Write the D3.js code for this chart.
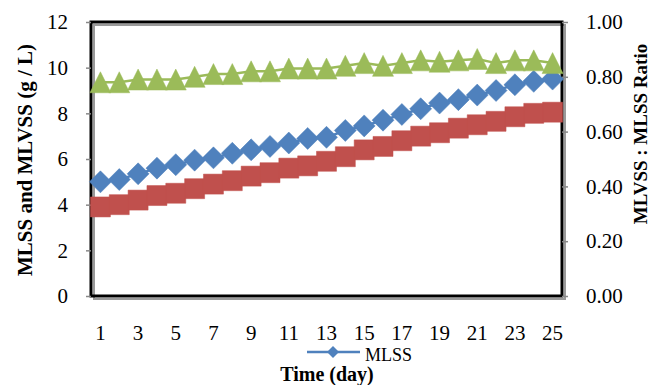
<!DOCTYPE html>
<html>
<head>
<meta charset="utf-8">
<script src="https://cdn.jsdelivr.net/npm/d3@7/dist/d3.min.js"></script>
<style>
  body { margin: 0; background: #fff; }
  svg { display: block; }
  .tick text { font-family: "Liberation Serif", "Times New Roman", serif; font-size: 21px; fill: #000; }
  .title { font-family: "Liberation Serif", "Times New Roman", serif; font-weight: bold; fill: #000; }
</style>
</head>
<body>
<div id="chart"></div>
<script>
        // Data
        const days = d3.range(1, 26);
        const mlss = [5.0, 5.1, 5.35, 5.6, 5.75, 5.95, 6.05, 6.25, 6.4, 6.55, 6.7, 6.9, 6.95,
                      7.25, 7.45, 7.7, 7.95, 8.2, 8.45, 8.6, 8.8, 9.0, 9.25, 9.4, 9.5];
        const mlvss = [3.9, 4.0, 4.2, 4.4, 4.5, 4.7, 4.9, 5.05, 5.25, 5.4, 5.6, 5.7, 5.9,
                       6.1, 6.4, 6.55, 6.8, 7.0, 7.15, 7.35, 7.5, 7.65, 7.85, 8.0, 8.05];
        const ratio = [0.78, 0.78, 0.79, 0.79, 0.79, 0.80, 0.81, 0.81, 0.82, 0.82, 0.83, 0.83, 0.83,
                       0.84, 0.85, 0.84, 0.85, 0.86, 0.855, 0.86, 0.865, 0.85, 0.86, 0.86, 0.85];
        const leftTicks = [0, 2, 4, 6, 8, 10, 12];
        const rightTicks = [0, 0.2, 0.4, 0.6, 0.8, 1.0];
        const xTickDays = days.filter(d => d % 2 === 1);

        // Dimensions and margins
        const W = 651, H = 385;
        const margin = { top: 22, right: 89, bottom: 89, left: 91 };
        const innerW = W - margin.left - margin.right,
            innerH = H - margin.top - margin.bottom;

        const svg = d3.select("#chart")
            .append("svg")
            .attr("width", W)
            .attr("height", H);

        const g = svg.append("g")
            .attr("transform", `translate(${margin.left},${margin.top})`);

        // Scales
        const x = d3.scaleBand().domain(days).range([0, innerW]).padding(0);
        const cx = d => x(d) + x.bandwidth() / 2;
        const yL = d3.scaleLinear().domain([0, 12]).range([innerH, 0]);
        const yR = d3.scaleLinear().domain([0, 1]).range([innerH, 0]);

        // Frame with a grey shadow
        g.append("rect")
            .attr("x", 3).attr("y", 3)
            .attr("width", innerW).attr("height", innerH)
            .attr("fill", "none").attr("stroke", "#9a9a9a").attr("stroke-width", 2);
        g.append("rect")
            .attr("width", innerW).attr("height", innerH)
            .attr("fill", "none").attr("stroke", "#000").attr("stroke-width", 3);

        // Left axis
        const ax = g.append("g")
            .call(d3.axisLeft(yL).tickValues(leftTicks).tickSize(5).tickPadding(18));
        ax.select(".domain").remove();
        ax.selectAll(".tick line").attr("stroke", "#888").attr("stroke-width", 1.5);

        // Right axis
        const axR = g.append("g")
            .attr("transform", `translate(${innerW},0)`)
            .call(d3.axisRight(yR).tickValues(rightTicks).tickFormat(d3.format(".2f")).tickSize(6).tickPadding(18));
        axR.select(".domain").remove();
        axR.selectAll(".tick line").attr("stroke", "#888").attr("stroke-width", 1.5);

        // Bottom axis (labels only)
        const axB = g.append("g")
            .attr("transform", `translate(0,${innerH})`)
            .call(d3.axisBottom(x).tickValues(xTickDays).tickSize(0).tickPadding(29));
        axB.select(".domain").remove();

        // Series
        const line = (yScale) => d3.line().x((d, i) => cx(days[i])).y(d => yScale(d));

        const series = [
            { vals: mlss, y: yL, color: "#4F81BD", shape: "diamond" },
            { vals: mlvss, y: yL, color: "#C0504D", shape: "square" },
            { vals: ratio, y: yR, color: "#9BBB59", shape: "triangle" }
        ];

        function markerPath(shape, px, py, r) {
            if (shape === "diamond") {
                return `M${px},${py - r}L${px + r},${py}L${px},${py + r}L${px - r},${py}Z`;
            } else if (shape === "square") {
                return `M${px - r},${py - r}h${2 * r}v${2 * r}h${-2 * r}Z`;
            }
            return `M${px},${py - r}L${px + r},${py + r}L${px - r},${py + r}Z`;
        }
        const sizes = { diamond: 11, square: 10, triangle: 10.5 };

        series.forEach(s => {
            g.append("path")
                .datum(s.vals)
                .attr("d", line(s.y))
                .attr("fill", "none")
                .attr("stroke", s.color)
                .attr("stroke-width", 2.5);

            g.selectAll(".m-" + s.shape)
                .data(s.vals)
                .enter().append("path")
                .attr("class", "m-" + s.shape)
                .attr("d", (d, i) => markerPath(s.shape, cx(days[i]), s.y(d), sizes[s.shape]))
                .attr("fill", s.color)
                .attr("stroke", s.color)
                .attr("stroke-width", 0.5);
        });

        // Axis titles
        svg.append("text")
            .attr("class", "title")
            .attr("transform", "translate(32,160) rotate(-90)")
            .attr("text-anchor", "middle")
            .style("font-size", "21px")
            .text("MLSS and MLVSS (g / L)");

        svg.append("text")
            .attr("class", "title")
            .attr("transform", "translate(647,134) rotate(-90)")
            .attr("text-anchor", "middle")
            .style("font-size", "19px")
            .text("MLVSS : MLSS Ratio");

        svg.append("text")
            .attr("class", "title")
            .attr("x", 327).attr("y", 381)
            .attr("text-anchor", "middle")
            .style("font-size", "20px")
            .text("Time (day)");

        // Legend (only MLSS visible)
        const lg = svg.append("g").attr("transform", "translate(307,352)");
        lg.append("line")
            .attr("x1", 0).attr("x2", 53)
            .attr("stroke", "#4F81BD").attr("stroke-width", 2.5);
        lg.append("path")
            .attr("d", markerPath("diamond", 26, 0, 6))
            .attr("fill", "#4F81BD");
        lg.append("text")
            .attr("x", 58).attr("y", 9)
            .style("font-family", "'Liberation Serif', 'Times New Roman', serif")
            .style("font-size", "18px")
            .text("MLSS");
</script>
</body>
</html>
